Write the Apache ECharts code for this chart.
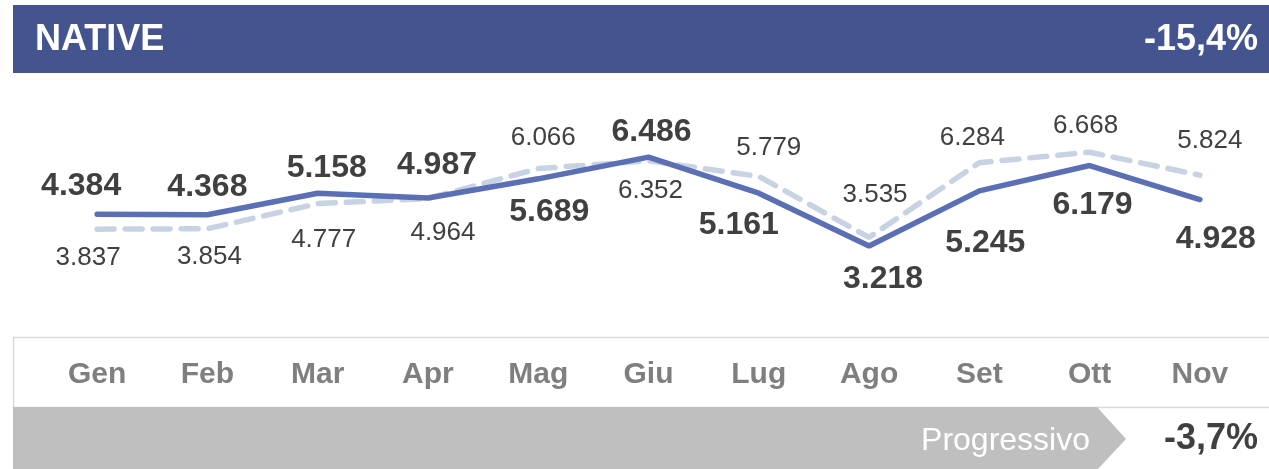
<!DOCTYPE html>
<html>
<head>
<meta charset="utf-8">
<script src="https://cdn.jsdelivr.net/npm/echarts@6/dist/echarts.min.js"></script>
<style>
  html, body { margin: 0; padding: 0; background: #fff; }
  #chart { width: 1269px; height: 469px; }
</style>
</head>
<body>
<div id="chart"></div>
<script>
// dati
var mesi = ['Gen', 'Feb', 'Mar', 'Apr', 'Mag', 'Giu', 'Lug', 'Ago', 'Set', 'Ott', 'Nov'];
var annoCorrente = [4.384, 4.368, 5.158, 4.987, 5.689, 6.486, 5.161, 3.218, 5.245, 6.179, 4.928];
var annoPrecedente = [3.837, 3.854, 4.777, 4.964, 6.066, 6.352, 5.779, 3.535, 6.284, 6.668, 5.824];
var titolo = 'NATIVE';
var variazione = '-15,4%';
var progressivo = '-3,7%';

// spostamento etichette [dx, dy] rispetto al punto
var offsetCorrente = [[-16, -28], [0, -28], [9, -25], [9, -33], [11, 33], [3, -25], [-20, 32], [14, 33], [6, 52], [3, 40], [16, 40]];
var offsetPrecedente = [[-9, 29], [2, 28], [6, 36], [15, 34], [5, -31], [2, 30], [10, -29], [6, -43], [-7, -25], [-4, -26], [10, -34]];

function fmt(v) {
  return v.toFixed(3);
}

function puntiConEtichetta(valori, offsets) {
  return valori.map(function (v, i) {
    return {
      value: v,
      label: { offset: offsets[i] }
    };
  });
}

var FONT = '"Liberation Sans", Arial, sans-serif';

var chart = echarts.init(document.getElementById('chart'), null, { renderer: 'canvas' });

var option = {
  animation: false,
  backgroundColor: '#fff',
  grid: {
    left: 42,
    right: 14,
    top: 116,
    bottom: 135.5,
    containLabel: false
  },
  xAxis: {
    type: 'category',
    data: mesi,
    boundaryGap: true,
    axisLine: { show: false },
    axisTick: { show: false },
    splitLine: { show: false },
    axisLabel: {
      margin: 26,
      color: '#7f7f7f',
      fontFamily: FONT,
      fontWeight: 'bold',
      fontSize: 30
    }
  },
  yAxis: {
    type: 'value',
    min: 0,
    max: 8,
    show: false
  },
  graphic: [
    // barra titolo
    {
      type: 'rect',
      shape: { x: 13, y: 5, width: 1270, height: 68 },
      style: { fill: '#44548e' },
      z: 0
    },
    {
      type: 'text',
      left: 35,
      top: 22,
      style: {
        text: titolo,
        fill: '#fff',
        font: 'bold 36px ' + FONT
      }
    },
    {
      type: 'text',
      right: 11,
      top: 22,
      style: {
        text: variazione,
        fill: '#fff',
        font: 'bold 36px ' + FONT
      }
    },
    // riquadro mesi
    {
      type: 'rect',
      shape: { x: 13.5, y: 337.5, width: 1270, height: 70 },
      style: { fill: 'none', stroke: '#d9d9d9', lineWidth: 1.5 },
      z: 0
    },
    // barra progressivo
    {
      type: 'polygon',
      shape: {
        points: [[13, 407], [1097, 407], [1126, 439], [1097, 470], [13, 470]]
      },
      style: { fill: '#bfbfbf' },
      z: 0
    },
    {
      type: 'text',
      x: 1090,
      y: 441,
      style: {
        text: 'Progressivo',
        fill: '#fff',
        font: '32px ' + FONT,
        align: 'right',
        verticalAlign: 'middle'
      }
    },
    {
      type: 'text',
      x: 1258,
      y: 439,
      style: {
        text: progressivo,
        fill: '#404040',
        font: 'bold 36px ' + FONT,
        align: 'right',
        verticalAlign: 'middle'
      }
    }
  ],
  series: [{
    name: 'Anno precedente',
    type: 'line',
    z: 2,
    symbol: 'circle',
    symbolSize: 1,
    showSymbol: true,
    itemStyle: { color: '#c7d2e3' },
    lineStyle: {
      color: '#c7d2e3',
      width: 5.5,
      type: [17, 11],
      cap: 'round'
    },
    label: {
      show: true,
      position: 'inside',
      color: '#404040',
      fontFamily: FONT,
      fontSize: 26,
      formatter: function (p) { return fmt(p.value); }
    },
    data: puntiConEtichetta(annoPrecedente, offsetPrecedente)
  }, {
    name: 'Anno corrente',
    type: 'line',
    z: 3,
    symbol: 'circle',
    symbolSize: 1,
    showSymbol: true,
    itemStyle: { color: '#5b6fb4' },
    lineStyle: {
      color: '#5b6fb4',
      width: 5.5,
      cap: 'round'
    },
    label: {
      show: true,
      position: 'inside',
      color: '#404040',
      fontFamily: FONT,
      fontWeight: 'bold',
      fontSize: 32,
      formatter: function (p) { return fmt(p.value); }
    },
    data: puntiConEtichetta(annoCorrente, offsetCorrente)
  }]
};

chart.setOption(option);
</script>
</body>
</html>
